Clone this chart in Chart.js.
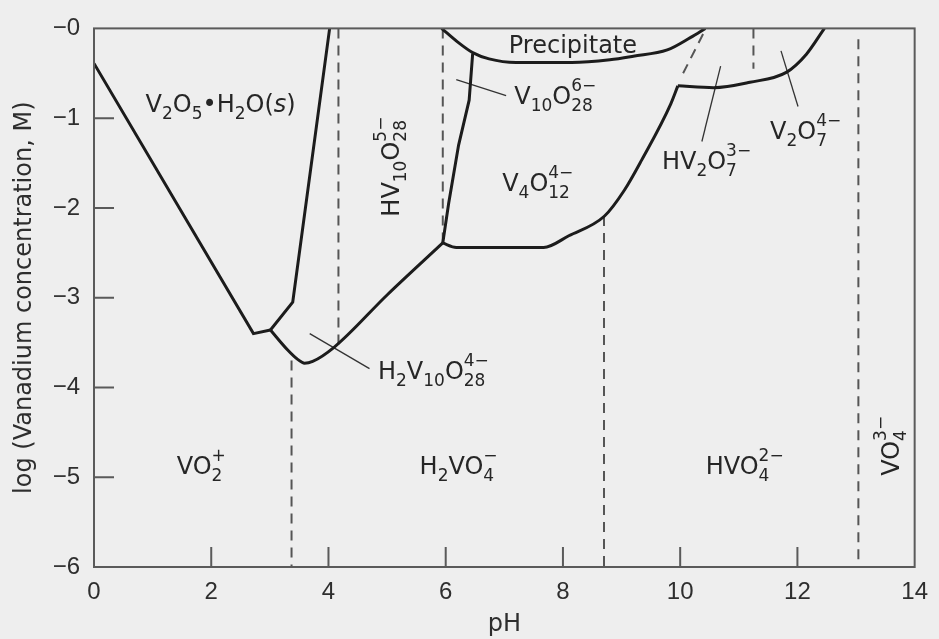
<!DOCTYPE html>
<html><head><meta charset="utf-8">
<script src="https://cdn.jsdelivr.net/npm/chart.js@4.4.1/dist/chart.umd.min.js"></script>
<style>html,body{margin:0;padding:0;background:#eeeeee;}#wrap{width:939px;height:639px;}</style>
</head><body><div id="wrap"><canvas id="c" width="939" height="639"></canvas></div>
<script>
// ---- axis ticks ----
const xTickValues = [0, 2, 4, 6, 8, 10, 12, 14];
const yTickValues = [0, -1, -2, -3, -4, -5, -6];
const xInnerTicks = [2, 4, 6, 8, 10, 12];
const yInnerTicks = [-1, -2, -3, -4, -5];

// ---- solid boundaries (pH, log C) ----
const v2o5LeftPH   = [0, 2.72, 3.01];
const v2o5LeftLog  = [-0.39, -3.40, -3.36];
const v2o5RightPH  = [3.01, 3.39, 4.02];
const v2o5RightLog = [-3.36, -3.05, 0];
const h2v10PH      = [3.01, 3.30, 3.48, 3.59, 3.73, 4.10, 5.00, 5.95];
const h2v10Log     = [-3.36, -3.58, -3.69, -3.73, -3.71, -3.55, -2.97, -2.39];
const v10RightPH   = [5.95, 6.05, 6.22, 6.40, 6.46];
const v10RightLog  = [-2.39, -1.95, -1.30, -0.80, -0.28];
const precipPH     = [5.93, 6.20, 6.46, 6.74, 7.20, 8.15, 8.80, 9.20, 9.78, 10.18, 10.43];
const precipLog    = [0, -0.15, -0.27, -0.34, -0.38, -0.38, -0.35, -0.31, -0.24, -0.10, 0];
const v4RightPH    = [5.95, 6.18, 7.67, 8.10, 8.71, 9.05, 9.34, 9.84, 9.96];
const v4RightLog   = [-2.39, -2.44, -2.44, -2.31, -2.09, -1.80, -1.47, -0.84, -0.64];
const hv2o7TopPH   = [9.96, 10.57, 11.19, 11.81, 12.15, 12.46];
const hv2o7TopLog  = [-0.64, -0.66, -0.60, -0.49, -0.29, 0];

// ---- dashed boundaries ----
const dash1PH = [4.17, 4.17];   const dash1Log = [0, -3.53];
const dash2PH = [3.37, 3.37];   const dash2Log = [-3.70, -6];
const dash3PH = [5.95, 5.95];   const dash3Log = [0, -2.39];
const dash4PH = [8.70, 8.70];   const dash4Log = [-2.09, -6];
const dash5PH = [11.25, 11.25]; const dash5Log = [0, -0.45];
const dash6PH = [13.04, 13.04]; const dash6Log = [-0.12, -6];
const dash7PH = [10.05, 10.44]; const dash7Log = [-0.50, 0];

// ---- leader lines ----
const lead1PH = [6.18, 7.03];  const lead1Log = [-0.57, -0.75];
const lead2PH = [3.68, 4.70];  const lead2Log = [-3.40, -3.79];
const lead3PH = [10.69, 10.37]; const lead3Log = [-0.42, -1.26];
const lead4PH = [11.72, 12.01]; const lead4Log = [-0.25, -0.87];

// ---- region labels (text, pH, log, rotation) ----
const labelTexts = ['V_{2}O_{5}•H_{2}O(*s*)', 'HV_{10}O_{28}^{5−}', 'Precipitate', 'V_{10}O_{28}^{6−}',
  'V_{4}O_{12}^{4−}', 'HV_{2}O_{7}^{3−}', 'V_{2}O_{7}^{4−}', 'H_{2}V_{10}O_{28}^{4−}',
  'VO_{2}^{+}', 'H_{2}VO_{4}^{−}', 'HVO_{4}^{2−}', 'VO_{4}^{3−}'];
const labelPH  = [2.16, 5.05, 8.17, 7.87, 7.57, 10.45, 12.14, 5.79, 1.83, 6.22, 11.10, 13.58];
const labelLog = [-0.84, -1.54, -0.18, -0.75, -1.72, -1.47, -1.14, -3.81, -4.87, -4.87, -4.87, -4.65];
const labelRot = [0, 90, 0, 0, 0, 0, 0, 0, 0, 0, 0, 90];

function pts(xs, ys) { return xs.map((x, i) => ({ x: x, y: ys[i] })); }

const INK = '#1c1c1c';
function solid(xs, ys, smooth) {
  return { data: pts(xs, ys), showLine: true, borderColor: INK, borderWidth: 3, pointRadius: 0,
    tension: smooth ? 0.4 : 0, cubicInterpolationMode: smooth ? 'monotone' : 'default', order: 1 };
}
function dashed(xs, ys) {
  return { data: pts(xs, ys), showLine: true, borderColor: '#555', borderWidth: 2, borderDash: [10, 7],
    pointRadius: 0, order: 3 };
}
function leader(xs, ys) {
  return { data: pts(xs, ys), showLine: true, borderColor: '#333', borderWidth: 1.3, pointRadius: 0, order: 2 };
}

const datasets = [
  dashed(dash1PH, dash1Log), dashed(dash2PH, dash2Log), dashed(dash3PH, dash3Log),
  dashed(dash4PH, dash4Log), dashed(dash5PH, dash5Log), dashed(dash6PH, dash6Log), dashed(dash7PH, dash7Log),
  leader(lead1PH, lead1Log), leader(lead2PH, lead2Log), leader(lead3PH, lead3Log), leader(lead4PH, lead4Log),
  solid(v2o5LeftPH, v2o5LeftLog, false), solid(v2o5RightPH, v2o5RightLog, false),
  solid(h2v10PH, h2v10Log, true), solid(v10RightPH, v10RightLog, false),
  solid(precipPH, precipLog, true), solid(v4RightPH, v4RightLog, true), solid(hv2o7TopPH, hv2o7TopLog, true)
];

// ---- chemical-formula text rendering ----
function parseChem(s) {
  const runs = []; let i = 0; let buf = ''; let italic = false;
  const flush = () => { if (buf) { runs.push({ k: 'n', t: buf, it: italic }); buf = ''; } };
  const grab = (j) => { const e = s.indexOf('}', j); return [s.slice(j + 2, e), e + 1]; };
  while (i < s.length) {
    const c = s[i];
    if (c === '*') { flush(); italic = !italic; i++; continue; }
    if (c === '_' && s[i + 1] === '{') {
      flush(); const [sub, j] = grab(i);
      if (s[j] === '^' && s[j + 1] === '{') { const [sup, k] = grab(j); runs.push({ k: 's', sub: sub, sup: sup }); i = k; }
      else { runs.push({ k: 's', sub: sub, sup: '' }); i = j; }
      continue;
    }
    if (c === '^' && s[i + 1] === '{') { flush(); const [sup, j] = grab(i); runs.push({ k: 's', sub: '', sup: sup }); i = j; continue; }
    buf += c; i++;
  }
  flush(); return runs;
}
const FAM = '"DejaVu Sans", sans-serif';
const MAIN = 24, SMALL = 17;
function drawChem(ctx, text, cx, cy, rot) {
  const runs = parseChem(text);
  const mainF = (it) => (it ? 'italic ' : '') + MAIN + 'px ' + FAM;
  const smallF = SMALL + 'px ' + FAM;
  let total = 0;
  runs.forEach(r => {
    if (r.k === 'n') { ctx.font = mainF(r.it); r.w = ctx.measureText(r.t).width; }
    else { ctx.font = smallF; r.w = Math.max(ctx.measureText(r.sub).width, ctx.measureText(r.sup).width); }
    total += r.w;
  });
  ctx.save();
  ctx.translate(cx, cy);
  if (rot) ctx.rotate(-rot * Math.PI / 180);
  ctx.fillStyle = '#262626';
  ctx.textBaseline = 'alphabetic';
  ctx.textAlign = 'left';
  const base = MAIN * 0.36;
  let x = -total / 2;
  runs.forEach(r => {
    if (r.k === 'n') { ctx.font = mainF(r.it); ctx.fillText(r.t, x, base); }
    else {
      ctx.font = smallF;
      if (r.sub) ctx.fillText(r.sub, x, base + 7);
      if (r.sup) ctx.fillText(r.sup, x, base - 13);
    }
    x += r.w;
  });
  ctx.restore();
}

const decor = {
  id: 'decor',
  beforeDraw(chart) {
    const ctx = chart.ctx;
    ctx.save(); ctx.fillStyle = '#eeeeee'; ctx.fillRect(0, 0, chart.width, chart.height); ctx.restore();
  },
  afterDatasetsDraw(chart) {
    const ctx = chart.ctx, a = chart.chartArea, xs = chart.scales.x, ys = chart.scales.y;
    ctx.save();
    ctx.strokeStyle = '#5a5a5a'; ctx.lineWidth = 2;
    ctx.strokeRect(a.left, a.top, a.right - a.left, a.bottom - a.top);
    ctx.beginPath();
    xInnerTicks.forEach(v => { const px = xs.getPixelForValue(v); ctx.moveTo(px, a.bottom); ctx.lineTo(px, a.bottom - 20); });
    yInnerTicks.forEach(v => { const py = ys.getPixelForValue(v); ctx.moveTo(a.left, py); ctx.lineTo(a.left + 20, py); });
    ctx.stroke();
    ctx.restore();
    labelTexts.forEach((t, i) => drawChem(ctx, t, xs.getPixelForValue(labelPH[i]), ys.getPixelForValue(labelLog[i]), labelRot[i]));
  }
};

new Chart(document.getElementById('c'), {
  type: 'scatter',
  data: { datasets: datasets },
  options: {
    responsive: false, animation: false, devicePixelRatio: 1,
    layout: { padding: { top: 24, right: 16, left: 0, bottom: 0 } },
    plugins: { legend: { display: false }, tooltip: { enabled: false } },
    scales: {
      x: {
        type: 'linear', min: 0, max: 14,
        afterBuildTicks: s => { s.ticks = xTickValues.map(v => ({ value: v })); },
        afterFit: s => { s.height = 72; },
        grid: { display: false, drawTicks: false }, border: { display: false },
        ticks: { padding: 11, color: '#2e2e2e', font: { family: '"Liberation Sans", Arial, sans-serif', size: 24 }, maxRotation: 0 },
        title: { display: true, text: 'pH', color: '#2e2e2e', font: { family: FAM, size: 24 }, padding: { top: 0, bottom: 0 } }
      },
      y: {
        type: 'linear', min: -6, max: 0,
        afterBuildTicks: s => { s.ticks = yTickValues.map(v => ({ value: v })); },
        afterFit: s => { s.width = 94; },
        grid: { display: false, drawTicks: false }, border: { display: false },
        ticks: { padding: 14, color: '#2e2e2e', font: { family: '"Liberation Sans", Arial, sans-serif', size: 24 },
          callback: v => '−' + Math.abs(v) },
        title: { display: true, text: 'log (Vanadium concentration, M)', color: '#2e2e2e', font: { family: FAM, size: 24 }, padding: { top: 10, bottom: 0 } }
      }
    }
  },
  plugins: [decor]
});
</script></body></html>
